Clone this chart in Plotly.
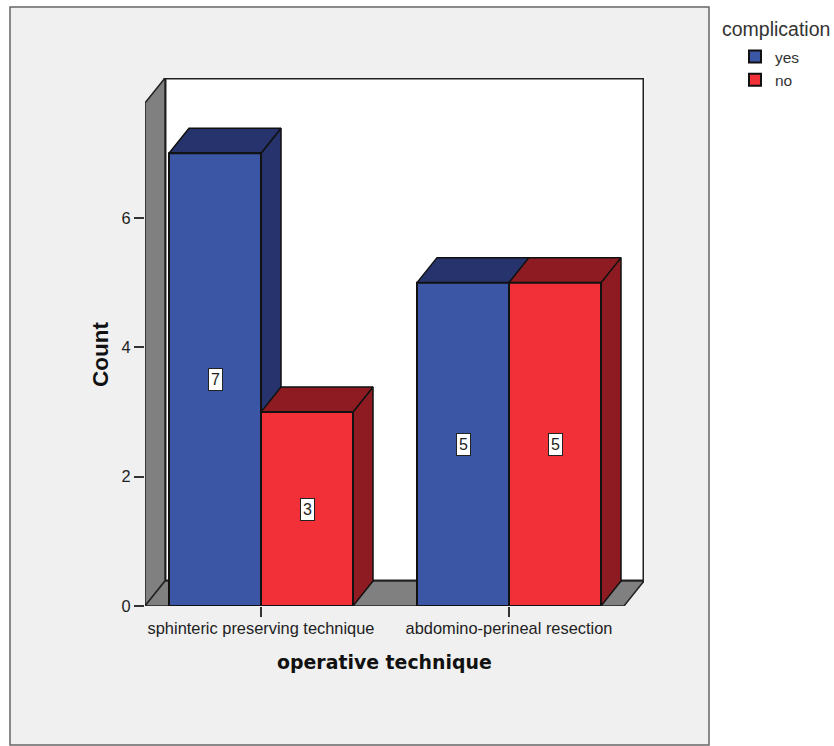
import plotly.graph_objects as go

# ---- data ----
categories = ["sphinteric preserving technique", "abdomino-perineal resection"]
yes_counts = [7, 5]
no_counts = [3, 5]
series_names = ["yes", "no"]
y_ticks = [0, 2, 4, 6]

# ---- style / layout ----
W, H = 834, 746
L, R, T, B = 145, 644, 78, 606        # plot area in px
PX_PER_GROUP = 248.0
PX_PER_COUNT = 64.67
X0_PX = 261.0                          # px of first category centre
BAR_W = 92 / PX_PER_GROUP
DX = 20 / PX_PER_GROUP                 # depth of the 3-D effect
DY = 25 / PX_PER_COUNT
FRONT = {"yes": "#3c56a6", "no": "#f23038"}
TOP = {"yes": "#27336d", "no": "#8e1b22"}
SIDE = {"yes": "#27336d", "no": "#8e1b22"}
GREY = "#808080"
INK = "#111111"
FONT = "Liberation Sans, Arial, sans-serif"

xmin = (L - X0_PX) / PX_PER_GROUP
xmax = (R - X0_PX) / PX_PER_GROUP
ymax = (B - T) / PX_PER_COUNT


def px(x):
    return (x - L) / (R - L)


def py(y):
    return (B - y) / (B - T)


fig = go.Figure()
positions = list(range(len(categories)))

# depth faces, painted left to right on the lower axes
for i in positions:
    for name, vals, off in (("yes", yes_counts, -BAR_W), ("no", no_counts, 0.0)):
        a, b, v = i + off, i + off + BAR_W, vals[i]
        fig.add_trace(go.Scatter(
            x=[b, b + DX, b + DX, b, b], y=[0, DY, v + DY, v, 0], mode="lines",
            fill="toself", fillcolor=SIDE[name], line=dict(color=INK, width=1.5),
            showlegend=False, hoverinfo="skip", xaxis="x", yaxis="y"))
        fig.add_trace(go.Scatter(
            x=[a, b, b + DX, a + DX, a], y=[v, v, v + DY, v + DY, v], mode="lines",
            fill="toself", fillcolor=TOP[name], line=dict(color=INK, width=1.5),
            showlegend=False, hoverinfo="skip", xaxis="x", yaxis="y"))

# front faces on an overlaid axis pair, so they cover neighbouring depth faces
for name, vals, off in (("yes", yes_counts, -BAR_W), ("no", no_counts, 0.0)):
    fig.add_trace(go.Bar(
        x=positions, y=vals, name=name, width=BAR_W, offset=off,
        marker=dict(color=FRONT[name], line=dict(color=INK, width=2)),
        xaxis="x2", yaxis="y2"))

# value labels
annotations = []
for i in positions:
    for vals, off in ((yes_counts, -BAR_W / 2), (no_counts, BAR_W / 2)):
        annotations.append(dict(
            x=i + off, y=vals[i] / 2, xref="x2", yref="y2", text=str(vals[i]), showarrow=False,
            font=dict(family=FONT, size=16, color="#222222"), bgcolor="white",
            bordercolor="#222222", borderwidth=1, borderpad=2))

annotations += [
    dict(x=px(384), y=py(662), xref="paper", yref="paper", text="<b>operative technique</b>",
         xanchor="center", yanchor="middle", showarrow=False,
         font=dict(family="DejaVu Sans, Verdana, sans-serif", size=18.9, color="#111111")),
    dict(x=px(100), y=py(355), xref="paper", yref="paper", text="<b>Count</b>", textangle=-90,
         xanchor="center", yanchor="middle", showarrow=False,
         font=dict(family=FONT, size=22.5, color="#111111")),
    dict(x=px(720), y=py(29), xref="paper", yref="paper", text="complication",
         xanchor="left", yanchor="middle", showarrow=False,
         font=dict(family=FONT, size=19.5, color="#333333")),
]

shapes = [
    # outer panel
    dict(type="rect", xref="paper", yref="paper", x0=px(10), x1=px(709), y0=py(745), y1=py(7),
         fillcolor="#f0f0f0", line=dict(color="#666666", width=1.5), layer="below"),
    # back wall
    dict(type="rect", xref="x", yref="y", x0=xmin + DX, x1=xmax, y0=DY, y1=ymax,
         fillcolor="white", line=dict(color="#222222", width=3), layer="below"),
    # left wall
    dict(type="path", xref="x", yref="y", layer="below", fillcolor=GREY,
         line=dict(color="#222222", width=1.5),
         path=f"M {xmin} 0 L {xmin + DX} {DY} L {xmin + DX} {ymax} L {xmin} {ymax - DY} Z"),
    # floor
    dict(type="path", xref="x", yref="y", layer="below", fillcolor=GREY,
         line=dict(color="#222222", width=1.5),
         path=f"M {xmin} 0 L {xmax - DX} 0 L {xmax} {DY} L {xmin + DX} {DY} Z"),
]

axis_font = dict(family=FONT, size=16.4, color="#222222")
fig.update_layout(
    width=W, height=H,
    margin=dict(l=L, r=W - R, t=T, b=H - B, pad=0),
    paper_bgcolor="white", plot_bgcolor="rgba(0,0,0,0)",
    barmode="overlay",
    xaxis=dict(range=[xmin, xmax], tickmode="array", tickvals=positions, ticktext=categories,
               ticks="outside", ticklen=10, tickwidth=1.5, tickcolor="#333333", tickfont=axis_font,
               ticklabelstandoff=-3, showgrid=False, zeroline=False, showline=False),
    yaxis=dict(range=[0, ymax], tickmode="array", tickvals=y_ticks,
               ticks="outside", ticklen=10, tickwidth=1.5, tickcolor="#333333", tickfont=axis_font,
               showgrid=False, zeroline=False, showline=False),
    xaxis2=dict(range=[xmin, xmax], overlaying="x", visible=False),
    yaxis2=dict(range=[0, ymax], overlaying="y", visible=False),
    legend=dict(x=px(735), y=py(40), xanchor="left", yanchor="top", xref="paper", yref="paper",
                font=dict(family=FONT, size=15.5, color="#333333"), bgcolor="rgba(0,0,0,0)",
                itemclick=False, itemdoubleclick=False),
    showlegend=True,
    shapes=shapes, annotations=annotations,
)
fig.write_html("out.html", config=dict(displayModeBar=False),
               post_script="document.body.style.margin='0';document.body.style.overflow='hidden';")
